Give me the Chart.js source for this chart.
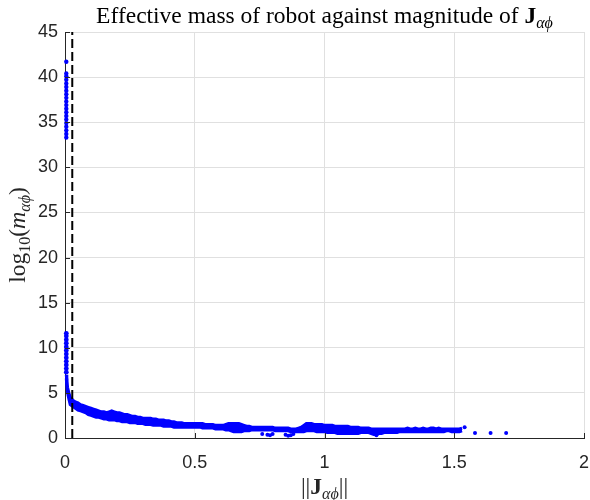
<!DOCTYPE html>
<html><head><meta charset="utf-8">
<script src="https://cdn.jsdelivr.net/npm/chart.js@4"></script>
<style>html,body{margin:0;padding:0;background:#fff}canvas{display:block}</style>
</head><body>
<canvas id="c" width="590" height="500" style="width:590px;height:500px"></canvas>
<script>
// ---- data ----
const xTicks = [0, 0.5, 1, 1.5, 2];
const yTicks = [0, 5, 10, 15, 20, 25, 30, 35, 40, 45];
const thresholdX = 0.028;           // dashed vertical line
const stackX = 0.005;               // near-zero vertical clusters
const stackUpperY = [33.3,33.7,34.1,34.5,34.9,35.3,35.7,36.1,36.5,36.9,37.3,37.7,38.1,38.5,38.9,39.3,39.7,40.1,40.4,41.7];
const stackLowerY = [7.3,7.7,8.1,8.5,8.9,9.3,9.7,10.1,10.5,10.9,11.3,11.6];
const bandX = [0.005,0.007,0.010,0.015,
  0.02,0.03,0.04,0.05,0.06,0.07,0.08,0.09,0.10,0.11,
  0.12,0.13,0.14,0.15,0.16,0.17,0.18,0.19,0.20,0.21,
  0.22,0.23,0.24,0.25,0.26,0.27,0.28,0.29,0.30,0.31,
  0.32,0.33,0.34,0.35,0.36,0.37,0.38,0.39,0.40,0.41,
  0.42,0.43,0.44,0.45,0.46,0.47,0.48,0.49,0.50,0.51,
  0.52,0.53,0.54,0.55,0.56,0.57,0.58,0.59,0.60,0.61,
  0.62,0.63,0.64,0.65,0.66,0.67,0.68,0.69,0.70,0.71,
  0.72,0.73,0.74,0.75,0.76,0.77,0.78,0.79,0.80,0.81,
  0.82,0.83,0.84,0.85,0.86,0.87,0.88,0.89,0.90,0.91,
  0.92,0.93,0.94,0.95,0.96,0.97,0.98,0.99,1.00,1.01,
  1.02,1.03,1.04,1.05,1.06,1.07,1.08,1.09,1.10,1.11,
  1.12,1.13,1.14,1.15,1.16,1.17,1.18,1.19,1.20,1.21,
  1.22,1.23,1.24,1.25,1.26,1.27,1.28,1.29,1.30,1.31,
  1.32,1.33,1.34,1.35,1.36,1.37,1.38,1.39,1.40,1.41,
  1.42,1.43,1.44,1.45,1.46,1.47,1.48,1.49,1.50,1.51,1.52,1.53];
const bandHi = [7.0,6.3,5.6,5.0,
  4.5,4.2,4.0,3.9,3.7,3.6,3.5,3.4,3.3,3.2,
  3.1,3.0,2.9,2.9,2.8,2.9,3.0,2.9,2.8,2.8,
  2.7,2.6,2.6,2.5,2.4,2.4,2.3,2.3,2.2,2.2,
  2.2,2.2,2.1,2.1,2.0,2.0,2.0,1.9,1.9,1.8,
  1.8,1.7,1.7,1.7,1.6,1.6,1.6,1.6,1.6,1.6,
  1.6,1.6,1.5,1.5,1.5,1.5,1.4,1.4,1.4,1.4,
  1.5,1.6,1.6,1.6,1.6,1.6,1.5,1.4,1.3,1.3,
  1.2,1.2,1.2,1.2,1.2,1.2,1.2,1.2,1.2,1.1,
  1.1,1.1,1.1,1.1,1.1,1.0,1.0,1.0,1.1,1.2,
  1.4,1.6,1.6,1.6,1.5,1.5,1.5,1.5,1.4,1.4,
  1.4,1.4,1.3,1.3,1.3,1.3,1.3,1.3,1.2,1.2,
  1.2,1.2,1.1,1.1,1.1,1.1,1.0,1.0,1.0,1.0,
  1.0,1.0,1.0,1.0,1.0,1.0,1.0,1.0,1.0,1.0,
  1.1,1.0,1.0,1.1,1.0,1.0,1.1,1.0,1.0,1.1,
  1.1,1.0,1.1,1.0,1.0,1.0,1.0,1.0,1.0,1.0,1.0,1.1];
const bandLo = [6.6,5.8,5.0,4.3,
  3.7,3.5,3.3,3.1,3.0,2.9,2.8,2.6,2.5,2.4,
  2.3,2.3,2.2,2.1,2.1,2.0,2.0,2.0,1.9,1.9,
  1.8,1.8,1.8,1.7,1.7,1.7,1.6,1.6,1.6,1.5,
  1.5,1.5,1.4,1.4,1.4,1.4,1.3,1.3,1.3,1.3,
  1.2,1.2,1.2,1.2,1.2,1.2,1.2,1.2,1.2,1.2,
  1.2,1.1,1.1,1.1,1.1,1.1,1.0,1.0,1.0,1.0,
  0.9,0.9,0.8,0.7,0.7,0.7,0.7,0.8,0.8,0.8,
  0.9,0.9,0.9,0.9,0.9,0.9,0.9,0.9,0.9,0.8,
  0.8,0.8,0.8,0.8,0.8,0.7,0.7,0.7,0.7,0.7,
  0.7,0.8,0.8,0.8,0.8,0.7,0.7,0.7,0.7,0.6,
  0.6,0.6,0.6,0.5,0.5,0.5,0.5,0.5,0.5,0.5,
  0.5,0.5,0.6,0.6,0.6,0.6,0.5,0.4,0.4,0.5,
  0.5,0.6,0.6,0.6,0.6,0.6,0.6,0.7,0.7,0.7,
  0.7,0.7,0.7,0.7,0.7,0.7,0.7,0.7,0.7,0.7,
  0.7,0.7,0.7,0.7,0.7,0.8,0.8,0.7,0.7,0.7,0.7,0.8];
const strayX = [0.76,0.78,0.79,0.80,0.85,0.86,0.87,0.88,1.20,1.54,1.58,1.64,1.70];
const strayY = [0.45,0.35,0.30,0.45,0.35,0.25,0.30,0.45,0.30,1.20,0.55,0.55,0.55];

// ---- chart ----
const BLUE = '#0000ff';
const INK = '#262626';
const pts = (xs, ys) => ys.map((y, i) => ({x: Array.isArray(xs) ? xs[i] : xs, y}));

const SERIF = '"Liberation Serif", "DejaVu Serif", serif';
function drawRich(ctx, parts, cx, baseY) {
  let w = 0;
  parts.forEach(p => { ctx.font = p.font; p.w = ctx.measureText(p.t).width; w += p.w; });
  let x = cx - w / 2;
  parts.forEach(p => { ctx.font = p.font; ctx.fillText(p.t, x, baseY + (p.dy || 0)); x += p.w; });
}

const decor = {
  id: 'decor',
  afterDatasetsDraw(chart) {
    const {ctx, chartArea: a, scales: {x, y}} = chart;
    ctx.save();
    ctx.strokeStyle = INK; ctx.lineWidth = 1;
    ctx.beginPath();
    xTicks.forEach(v => { const p = Math.round(x.getPixelForValue(v)) + 0.5; ctx.moveTo(p, a.bottom); ctx.lineTo(p, a.bottom - 5); });
    yTicks.forEach(v => { const p = Math.round(y.getPixelForValue(v)) + 0.5; ctx.moveTo(a.left, p); ctx.lineTo(a.left + 5, p); });
    ctx.stroke();
    ctx.restore();
  },
  afterDraw(chart) {
    const {ctx, chartArea: a} = chart;
    const cx = (a.left + a.right) / 2;
    ctx.save();
    ctx.fillStyle = '#000';
    ctx.textAlign = 'left'; ctx.textBaseline = 'alphabetic';
    const big = '23.5px ' + SERIF, bold = 'bold 23.5px ' + SERIF, sub = 'italic 16px ' + SERIF, subN = '16px ' + SERIF, it = 'italic 24px ' + SERIF;
    drawRich(ctx, [
      {t: 'Effective mass of robot against magnitude of ', font: big},
      {t: 'J', font: bold},
      {t: 'αϕ', font: sub, dy: 5}
    ], cx, 23);
    ctx.fillStyle = '#262626';
    drawRich(ctx, [
      {t: '||', font: big},
      {t: 'J', font: bold},
      {t: 'αϕ', font: sub, dy: 5},
      {t: '||', font: big}
    ], cx, 494);
    ctx.save();
    ctx.translate(25, (a.top + a.bottom) / 2);
    ctx.rotate(-Math.PI / 2);
    drawRich(ctx, [
      {t: 'log', font: big},
      {t: '10', font: subN, dy: 5},
      {t: '(', font: big},
      {t: 'm', font: it},
      {t: 'αϕ', font: sub, dy: 5},
      {t: ')', font: big}
    ], 0, 0);
    ctx.restore();
    ctx.restore();
  }
};

const tickFont = {family: '"Liberation Sans", Arial, sans-serif', size: 18};

new Chart(document.getElementById('c'), {
  type: 'scatter',
  data: {
    datasets: [
      {type: 'line', data: [{x: thresholdX, y: 0}, {x: thresholdX, y: 45}], borderColor: '#000', borderWidth: 2,
       borderDash: [9, 4], pointRadius: 0, fill: false, order: -1},
      {type: 'line', data: pts(bandX, bandLo), borderColor: BLUE, backgroundColor: BLUE, borderWidth: 3,
       pointRadius: 0, fill: false, tension: 0, clip: 6},
      {type: 'line', data: pts(bandX, bandHi), borderColor: BLUE, backgroundColor: BLUE, borderWidth: 3,
       pointRadius: 0, fill: '-1', tension: 0, clip: 6},
      {data: pts(stackX, stackUpperY), backgroundColor: BLUE, borderWidth: 0, pointRadius: 2.2, clip: 6},
      {data: pts(stackX, stackLowerY), backgroundColor: BLUE, borderWidth: 0, pointRadius: 2.4, clip: 6},
      {data: pts(strayX, strayY), backgroundColor: BLUE, borderWidth: 0, pointRadius: 2, clip: 6}
    ]
  },
  options: {
    responsive: false,
    animation: false,
    events: [],
    layout: {padding: {left: 0, right: 6, top: 32, bottom: 0}},
    plugins: {legend: {display: false}, tooltip: {enabled: false}},
    scales: {
      x: {
        type: 'linear', min: 0, max: 2,
        afterBuildTicks: s => { s.ticks = xTicks.map(v => ({value: v})); },
        afterFit: s => { s.height = 62; s.paddingLeft = 0; s.paddingRight = 0; },
        ticks: {font: tickFont, color: INK, padding: 14, maxRotation: 0, callback: v => String(v)},
        grid: {color: '#e0e0e0', lineWidth: 1, drawTicks: false},
        border: {color: INK, width: 1}
      },
      y: {
        type: 'linear', min: 0, max: 45,
        afterBuildTicks: s => { s.ticks = yTicks.map(v => ({value: v})); },
        afterFit: s => { s.width = 65; s.paddingTop = 0; s.paddingBottom = 0; },
        ticks: {font: tickFont, color: INK, padding: 7, callback: v => String(v)},
        grid: {color: '#e0e0e0', lineWidth: 1, drawTicks: false},
        border: {color: INK, width: 1}
      }
    }
  },
  plugins: [decor]
});
</script></body></html>
